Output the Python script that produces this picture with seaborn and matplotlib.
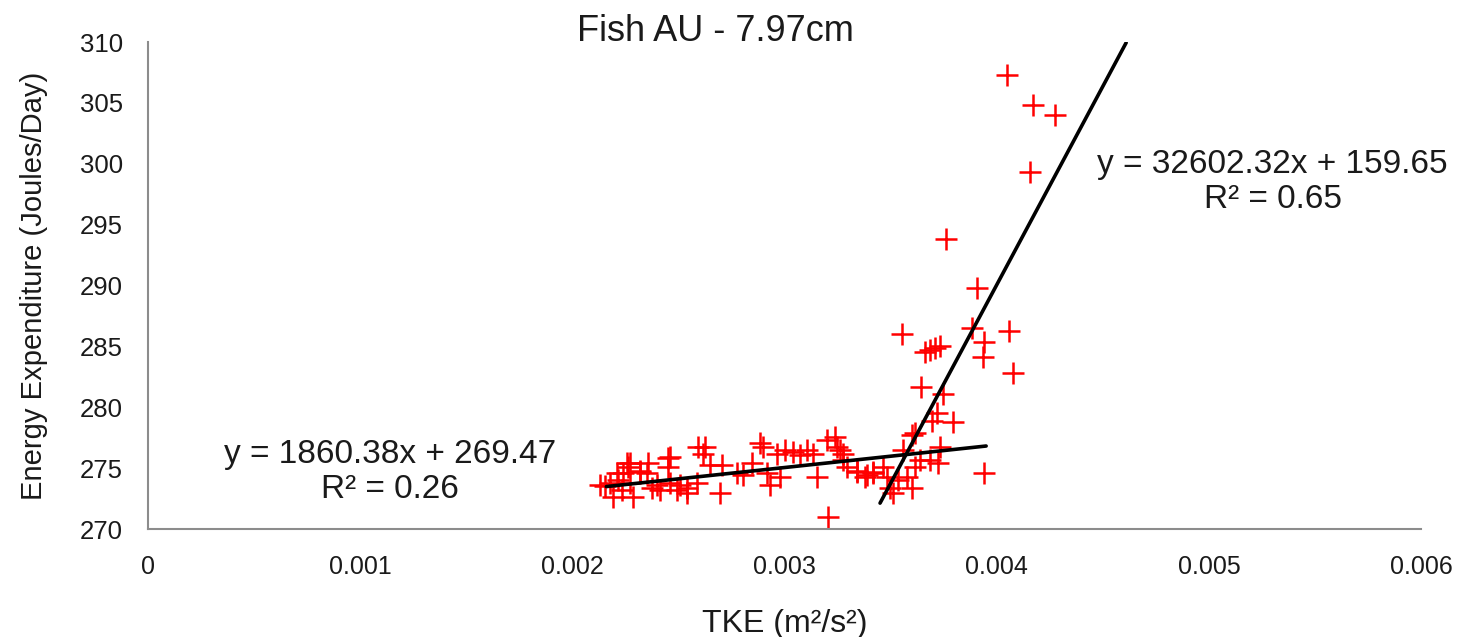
import matplotlib
matplotlib.use("Agg")
import matplotlib.pyplot as plt
import seaborn as sns
import numpy as np
import pandas as pd

# ---- data ----
tke = [
    4.048, 4.171, 4.274, 4.156, 3.761, 3.907, 3.553, 3.883, 4.058,
    3.662, 3.685, 3.709, 3.732, 3.940, 3.935, 4.076, 3.643, 3.746,
    3.718, 3.794, 3.695, 3.615, 3.732, 3.940, 3.600,
    3.261, 3.275, 3.341, 3.379, 3.417, 3.464, 3.483, 3.497, 3.511,
    3.534, 3.558, 3.577, 3.600, 3.615, 3.638, 3.685, 3.723,
    2.154, 2.191, 2.238, 2.262, 2.271, 2.286, 2.319, 2.356, 2.375,
    2.413, 2.451, 2.451, 2.493, 2.460, 2.540, 2.592, 2.625, 2.615,
    2.587, 2.648, 2.705, 2.696, 2.776, 2.804, 2.846, 2.884, 2.898,
    2.917, 2.931, 2.964, 2.978, 3.002, 3.040, 3.073, 3.106, 3.134,
    3.153, 3.200, 3.238, 3.247, 3.275, 3.294, 3.341, 3.388, 3.417,
    3.205,
    2.130, 2.177, 2.210, 2.257, 2.271, 2.319, 2.352, 2.399, 2.460,
    2.507, 2.540, 2.234, 2.215,
]
tke = [v / 1000 for v in tke]
energy = [
    307.3, 304.8, 304.0, 299.3, 293.8, 289.8, 286.0, 286.5, 286.3,
    284.5, 284.7, 284.9, 285.0, 285.4, 284.1, 282.8, 281.7, 281.1,
    279.5, 278.8, 278.9, 277.9, 276.7, 274.6, 277.7,
    276.5, 275.7, 274.8, 274.3, 274.6, 275.1, 274.3, 273.4, 273.0,
    274.0, 276.5, 274.3, 273.4, 275.1, 275.7, 275.7, 275.4,
    273.5, 272.6, 274.6, 275.1, 273.8, 272.6, 274.7, 275.4, 273.4,
    273.2, 275.8, 275.1, 273.2, 273.8, 273.4, 276.7, 276.7, 276.2,
    273.8, 275.3, 275.3, 273.0, 274.6, 274.4, 275.4, 277.1, 276.7,
    274.6, 273.6, 276.2, 274.3, 276.5, 276.3, 276.1, 276.5, 276.2,
    274.3, 277.3, 277.6, 276.7, 276.2, 275.1, 274.7, 274.4, 274.7,
    271.0,
    273.6, 273.8, 274.6, 275.4, 275.4, 274.8, 274.6, 273.6, 275.9,
    273.6, 273.0, 273.2, 274.0,
]

# trend lines: slope, intercept, x-range
fit_slopes = [1860.38, 32602.32]
fit_intercepts = [269.47, 159.65]
fit_x_start = [0.00216, 0.00345]
fit_x_end = [0.00395, 0.00461]
fit_labels = ["y = 1860.38x + 269.47\nR² = 0.26", "y = 32602.32x + 159.65\nR² = 0.65"]

x_ticks = [0, 0.001, 0.002, 0.003, 0.004, 0.005, 0.006]
x_ticklabels = ["0", "0.001", "0.002", "0.003", "0.004", "0.005", "0.006"]
y_ticks = [270, 275, 280, 285, 290, 295, 300, 305, 310]

# ---- plot ----
sns.set_theme(style="white")
plt.rcParams["font.family"] = ["Liberation Sans", "DejaVu Sans"]

fig = plt.figure(figsize=(14.82, 6.37), dpi=100)
ax = fig.add_axes([0.0999, 0.1695, 0.8590, 0.7645])

df = pd.DataFrame({"TKE": tke, "Energy": energy})
sns.scatterplot(data=df, x="TKE", y="Energy", marker="+", color="#ff0000",
                s=260, linewidth=1.8, ax=ax, zorder=2, legend=False)

for m, b, x0, x1 in zip(fit_slopes, fit_intercepts, fit_x_start, fit_x_end):
    xs = np.array([x0, x1])
    sns.lineplot(x=xs, y=m * xs + b, color="black", linewidth=2.6, ax=ax,
                 zorder=3, legend=False)

ax.set_xlim(0, 0.006)
ax.set_ylim(270, 310)
ax.set_xticks(x_ticks)
ax.set_xticklabels(x_ticklabels)
ax.set_yticks(y_ticks)

for side in ["top", "right"]:
    ax.spines[side].set_visible(False)
for side in ["left", "bottom"]:
    ax.spines[side].set_color("#8c8c8c")
    ax.spines[side].set_linewidth(1.5)

ax.tick_params(axis="both", which="major", direction="out", length=7,
               width=1.3, color="#8c8c8c", labelcolor="#1a1a1a")
ax.tick_params(axis="x", labelsize=18, pad=12)
ax.tick_params(axis="y", labelsize=18.5, pad=11)
ax.grid(False)

ax.set_xlabel("TKE (m²/s²)", fontsize=23, color="#1a1a1a", labelpad=21)
ax.set_ylabel("Energy Expenditure (Joules/Day)", fontsize=21, color="#1a1a1a",
              labelpad=23)

fig.text(0.4825, 0.950, "Fish AU - 7.97cm", ha="center", va="center",
         fontsize=26, color="#1a1a1a")

ax.text(0.00114, 274.7, fit_labels[0], ha="center", va="center",
        fontsize=24, color="#1a1a1a", linespacing=1.15)
ax.text(0.00530, 298.5, fit_labels[1], ha="center", va="center",
        fontsize=24, color="#1a1a1a", linespacing=1.15)

fig.savefig("out.png", dpi=100, facecolor="white")
